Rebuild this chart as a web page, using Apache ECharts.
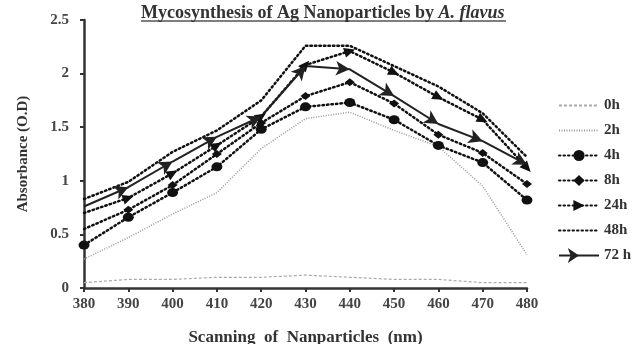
<!DOCTYPE html>
<html>
<head>
<meta charset="utf-8">
<script src="https://cdn.jsdelivr.net/npm/echarts@6/dist/echarts.min.js"></script>
<style>
  html, body { margin: 0; padding: 0; background: #fff; }
  #chart { width: 638px; height: 344px; }
</style>
</head>
<body>
<div id="chart"></div>
<script>
const wavelengths = [380, 390, 400, 410, 420, 430, 440, 450, 460, 470, 480]
const seriesNames = ['0h', '2h', '4h', '8h', '24h', '48h', '72 h']
const h0 = [0.05, 0.08, 0.08, 0.1, 0.1, 0.12, 0.1, 0.08, 0.08, 0.05, 0.05]
const h2 = [0.27, 0.47, 0.69, 0.89, 1.3, 1.58, 1.64, 1.47, 1.32, 0.95, 0.31]
const h4 = [0.4, 0.66, 0.89, 1.13, 1.48, 1.69, 1.73, 1.57, 1.33, 1.17, 0.82]
const h8 = [0.55, 0.73, 0.96, 1.25, 1.54, 1.79, 1.92, 1.72, 1.43, 1.26, 0.97]
const h24 = [0.7, 0.84, 1.07, 1.33, 1.6, 2.08, 2.21, 2.01, 1.78, 1.57, 1.12]
const h48 = [0.83, 0.99, 1.27, 1.47, 1.75, 2.26, 2.26, 2.07, 1.88, 1.63, 1.22]
const h72 = [0.76, 0.94, 1.18, 1.41, 1.6, 2.07, 2.04, 1.79, 1.53, 1.37, 1.15]
const yTicks = [0, 0.5, 1, 1.5, 2, 2.5]

const serif = '"Liberation Serif", "DejaVu Serif", serif'
const pairs = (vals) => wavelengths.map((x, i) => [x, vals[i]])
const dots = { type: [1.5, 3], cap: 'round', width: 2.5, color: '#111' }
const boldText = (size) => ({ fontFamily: serif, fontWeight: 'bold', fontSize: size, color: '#333' })

const chart = echarts.init(document.getElementById('chart'))

function line(name, vals, extra) {
  return Object.assign({
    name,
    type: 'line',
    data: pairs(vals),
    symbol: 'none',
    animation: false,
    itemStyle: { color: '#111' },
    lineStyle: dots,
    z: 3
  }, extra)
}

// no marker on the first point (as in the original)
function markedData(vals, rot) {
  return pairs(vals).map((d, i) => {
    const item = { value: d }
    if (i === 0) item.symbol = 'none'
    if (rot) item.symbolRotate = rot[i]
    return item
  })
}

chart.setOption({
  animation: false,
  title: {
    text: 'Mycosynthesis of Ag Nanoparticles by {i|A. flavus}',
    left: 141,
    top: 4,
    padding: 0,
    textStyle: Object.assign(boldText(18), {
      rich: { i: Object.assign(boldText(18), { fontStyle: 'italic' }) }
    })
  },
  graphic: [{ type: 'line', shape: { x1: 141, y1: 21, x2: 506, y2: 21 }, style: { stroke: '#555', lineWidth: 1.3 } }],
  legend: {
    orient: 'vertical',
    left: 553,
    top: 93,
    itemWidth: 40,
    itemHeight: 14,
    itemGap: 10,
    data: [
      { name: '0h', itemStyle: { opacity: 0 } },
      { name: '2h', itemStyle: { opacity: 0 } },
      { name: '4h' },
      { name: '8h' },
      { name: '24h', symbolRotate: -90 },
      { name: '48h', itemStyle: { opacity: 0 } },
      { name: '72 h', symbolRotate: -90 }
    ],
    textStyle: boldText(15)
  },
  grid: { left: 84, top: 20, width: 443, height: 268, outerBoundsMode: 'none', containLabel: false },
  xAxis: {
    type: 'value',
    min: 380,
    max: 480,
    interval: 10,
    name: 'Scanning  of  Nanparticles  (nm)',
    nameLocation: 'middle',
    nameGap: 41,
    nameTextStyle: boldText(17),
    axisLine: { lineStyle: { color: '#333', width: 2.5 } },
    axisTick: { length: 4, lineStyle: { color: '#333', width: 2 } },
    axisLabel: Object.assign({ margin: 9 }, boldText(15), { color: '#444' }),
    splitLine: { show: false }
  },
  yAxis: {
    type: 'value',
    min: yTicks[0],
    max: yTicks[yTicks.length - 1],
    interval: 0.5,
    name: 'Absorbance (O.D)',
    nameLocation: 'middle',
    nameGap: 53,
    nameTextStyle: boldText(15),
    axisLine: { show: true, lineStyle: { color: '#333', width: 2.5 } },
    axisTick: { show: true, length: 4, lineStyle: { color: '#333', width: 2 } },
    axisLabel: Object.assign({ margin: 15 }, boldText(15), { color: '#444' }),
    splitLine: { show: false }
  },
  series: [
    line('0h', h0, { lineStyle: { type: [3, 2], width: 1.2, color: '#aaa' }, itemStyle: { color: '#aaa' } }),
    line('2h', h2, { lineStyle: { type: [1, 1.5], width: 1.5, color: '#999' }, itemStyle: { color: '#999' } }),
    line('4h', h4, { symbol: 'circle', symbolSize: [11, 9] }),
    line('8h', h8, { symbol: 'diamond', symbolSize: [10, 8], data: markedData(h8) }),
    line('24h', h24, { symbol: 'triangle', symbolSize: [10, 11] }),
    line('48h', h48),
    line('72 h', h72, {
      symbol: 'arrow', symbolSize: [11, 14],
      lineStyle: { type: 'solid', width: 2, color: '#222' }, itemStyle: { color: '#222' }
    })
  ]
})

// turn the arrow / triangle markers along the incoming segment
function rotations(vals) {
  const pts = wavelengths.map((x, i) => chart.convertToPixel({ gridIndex: 0 }, [x, vals[i]]))
  return pts.map((p, i) => {
    const a = i === 0 ? pts[0] : pts[i - 1]
    const b = i === 0 ? pts[1] : p
    const ang = Math.atan2(a[1] - b[1], b[0] - a[0]) * 180 / Math.PI
    return ang - 90
  })
}
chart.setOption({
  series: [
    {}, {}, {}, {},
    { data: markedData(h24, rotations(h24)) },
    {},
    { data: markedData(h72, rotations(h72)) }
  ]
})
</script>
</body>
</html>
